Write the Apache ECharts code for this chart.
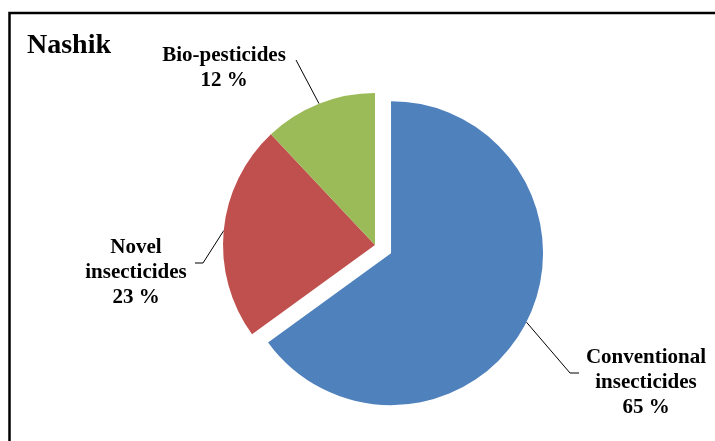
<!DOCTYPE html>
<html>
<head>
<meta charset="utf-8">
<script src="https://cdn.jsdelivr.net/npm/echarts@6/dist/echarts.min.js"></script>
<style>
  html, body { margin: 0; padding: 0; background: #fff; }
  #chart { width: 715px; height: 441px; }
</style>
</head>
<body>
<div id="chart"></div>
<script>
// Share of insecticide classes used in Nashik (%)
const categories = ['Conventional insecticides', 'Novel insecticides', 'Bio-pesticides'];
const shares = [65, 23, 12];
const sliceColors = ['#4F81BD', '#C0504D', '#9BBB59'];
const regionName = 'Nashik';

// pie geometry
const CX = 375, CY = 245, R = 152, EXPLODE = 18;
const PULLED = 0; // index of the slice pulled out of the pie
const FONT = '"Liberation Serif", "Times New Roman", serif';

// where each label block sits, with the leader line's bend and end
const labelSpots = [
  { x: 646, y: 383, bend: [570, 373], end: [579, 373] },
  { x: 136, y: 273, bend: [203, 263], end: [195, 263] },
  { x: 224, y: 68,  bend: [296, 60],  end: [296, 60] }
];

const total = shares.reduce((a, b) => a + b, 0);

function midAngle(i) {
  let before = 0;
  for (let k = 0; k < i; k++) before += shares[k];
  return (before + shares[i] / 2) / total * Math.PI * 2;
}

// centre of the pulled-out slice, moved along its mid angle
const pulledCenter = [
  CX + Math.sin(midAngle(PULLED)) * EXPLODE,
  CY - Math.cos(midAngle(PULLED)) * EXPLODE
];

function edgePoint(i) {
  const a = midAngle(i);
  const c = i === PULLED ? pulledCenter : [CX, CY];
  return [c[0] + Math.sin(a) * R, c[1] - Math.cos(a) * R];
}

const labelOpt = {
  show: true,
  position: 'outside',
  fontFamily: FONT,
  fontWeight: 'bold',
  fontSize: 21,
  lineHeight: 25,
  color: '#000',
  formatter: p => (p.name.includes(' ') ? p.name.replace(' ', '\n') : p.name) + '\n' + p.value + ' %'
};

function pieSeries(center, visible) {
  return {
    type: 'pie',
    center: center,
    radius: R,
    startAngle: 90,
    clockwise: true,
    silent: true,
    emphasis: { disabled: true },
    itemStyle: { borderWidth: 0 },
    data: categories.map((name, i) => {
      const on = visible(i);
      return {
        name,
        value: shares[i],
        itemStyle: { color: on ? sliceColors[i] : 'rgba(0,0,0,0)' },
        label: { show: on },
        labelLine: { show: on }
      };
    }),
    label: labelOpt,
    labelLine: { show: true, lineStyle: { color: '#000', width: 1 } },
    labelLayout: params => {
      const i = params.dataIndex;
      const s = labelSpots[i];
      return {
        x: s.x,
        y: s.y,
        align: 'center',
        verticalAlign: 'middle',
        labelLinePoints: [edgePoint(i), s.bend, s.end]
      };
    }
  };
}

const chart = echarts.init(document.getElementById('chart'), null, { renderer: 'canvas' });

chart.setOption({
  animation: false,
  backgroundColor: '#fff',
  title: {
    text: regionName,
    left: 27,
    top: 32,
    padding: 0,
    textStyle: { fontFamily: FONT, fontWeight: 'bold', fontSize: 28, color: '#000', lineHeight: 28 }
  },
  graphic: [{
    type: 'polyline',
    shape: { points: [[9.5, 441], [9.5, 13], [715, 13]] },
    style: { stroke: '#000', lineWidth: 2.5, fill: null },
    silent: true
  }],
  series: [
    pieSeries([CX, CY], i => i !== PULLED),
    pieSeries(pulledCenter, i => i === PULLED)
  ]
});
</script>
</body>
</html>
